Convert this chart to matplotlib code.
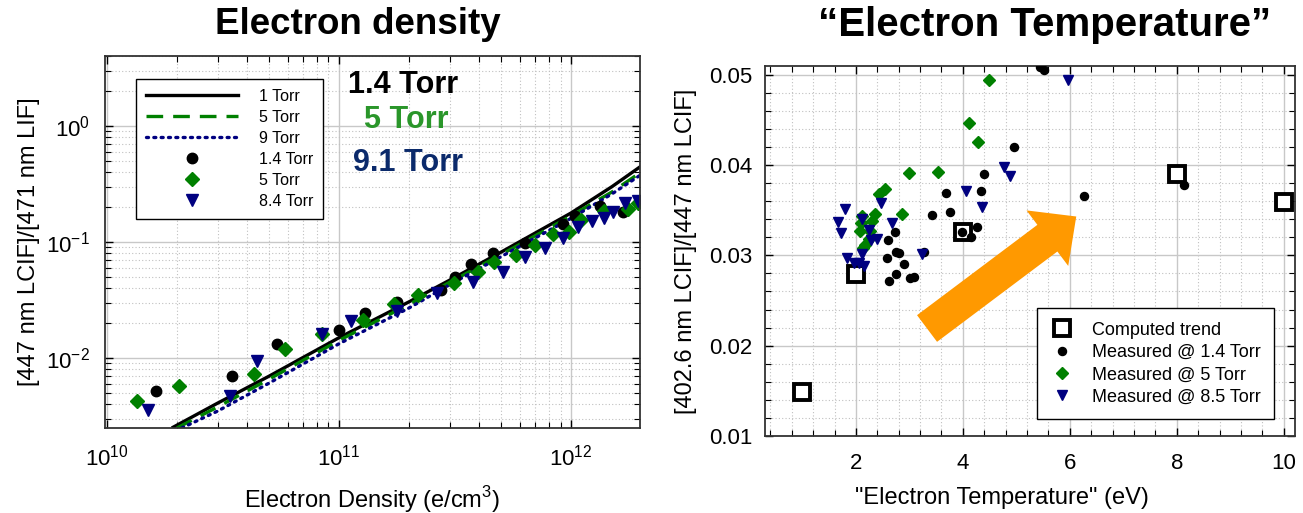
import matplotlib
matplotlib.use("Agg")
import matplotlib.pyplot as plt
import matplotlib.ticker as mticker
from matplotlib.patches import FancyArrowPatch, ArrowStyle
from matplotlib.lines import Line2D

plt.rcParams['font.family'] = ['Liberation Sans', 'DejaVu Sans']
plt.rcParams['mathtext.fontset'] = 'custom'
plt.rcParams['mathtext.rm'] = 'Liberation Sans'

# ---------------- Left panel data: Electron density ----------------
# Model curves (density in e/cm^3, ratio)
line1_density = [1.9e10, 3e10, 5e10, 1e11, 2e11, 3e11, 5e11, 1e12, 1.5e12, 2e12]
line1_ratio   = [0.0025, 0.0041, 0.0070, 0.0150, 0.0305, 0.047, 0.082, 0.178, 0.30, 0.45]
line5_density = [2.0e10, 3e10, 5e10, 1e11, 2e11, 3e11, 5e11, 1e12, 1.5e12, 2e12]
line5_ratio   = [0.0025, 0.0038, 0.0066, 0.0142, 0.029, 0.045, 0.078, 0.168, 0.27, 0.40]
line9_density = [2.1e10, 3e10, 5e10, 1e11, 2e11, 3e11, 5e11, 1e12, 1.5e12, 2e12]
line9_ratio   = [0.0025, 0.0035, 0.0061, 0.0133, 0.027, 0.043, 0.075, 0.160, 0.26, 0.38]

# Measured points
m14_density = [1.63e10, 3.46e10, 5.4e10, 1.0e11, 1.29e11, 1.78e11, 2.76e11, 3.17e11,
               3.70e11, 4.61e11, 6.3e11, 9.2e11, 1.04e12, 1.33e12, 1.68e12]
m14_ratio   = [0.00524, 0.00695, 0.0133, 0.0175, 0.0247, 0.0303, 0.0383, 0.0498,
               0.0648, 0.0801, 0.099, 0.1425, 0.166, 0.206, 0.181]
m5_density = [1.35e10, 2.05e10, 4.3e10, 5.87e10, 8.48e10, 1.27e11, 1.73e11, 2.18e11,
              3.14e11, 3.98e11, 4.67e11, 5.8e11, 6.99e11, 8.35e11, 9.79e11, 1.10e12,
              1.39e12, 1.75e12, 1.94e12]
m5_ratio   = [0.00424, 0.0057, 0.00728, 0.0120, 0.0162, 0.0211, 0.0294, 0.0351,
              0.0442, 0.0557, 0.0666, 0.0776, 0.0946, 0.117, 0.1216, 0.155,
              0.185, 0.192, 0.216]
m84_density = [1.50e10, 3.39e10, 4.44e10, 8.43e10, 1.13e11, 1.77e11, 2.63e11, 3.78e11,
               5.07e11, 6.3e11, 7.7e11, 9.2e11, 1.07e12, 1.23e12, 1.39e12, 1.51e12,
               1.71e12, 1.95e12]
m84_ratio   = [0.00355, 0.00474, 0.00936, 0.0161, 0.0209, 0.0252, 0.0363, 0.0451,
               0.0557, 0.074, 0.0885, 0.108, 0.134, 0.153, 0.160, 0.183,
               0.216, 0.226]

# ---------------- Right panel data: "Electron Temperature" ----------------
trend_te    = [1.0, 2.0, 4.0, 8.0, 10.0]
trend_ratio = [0.0149, 0.0279, 0.0326, 0.0390, 0.0359]

te14 = [5.44, 5.52, 4.96, 4.40, 4.34, 3.68, 3.76, 3.42, 4.26, 3.99, 4.15, 2.74, 2.60,
        2.75, 2.80, 2.58, 2.89, 2.75, 2.62, 3.02, 3.09, 3.28, 6.27, 8.13]
r14  = [0.0509, 0.0505, 0.0420, 0.0390, 0.0371, 0.0369, 0.0348, 0.0345, 0.0331, 0.0326,
        0.0320, 0.0326, 0.0317, 0.0304, 0.0303, 0.0297, 0.0290, 0.0279, 0.0272, 0.0275,
        0.0276, 0.0304, 0.0366, 0.0378]
te5 = [4.49, 4.11, 4.28, 3.00, 3.53, 2.55, 2.44, 2.86, 2.35, 2.12, 2.30, 2.10, 2.08,
       2.27, 2.24, 2.17, 2.13]
r5  = [0.0494, 0.0446, 0.0425, 0.0391, 0.0392, 0.0373, 0.0368, 0.0346, 0.0346, 0.0344,
       0.0338, 0.0336, 0.0327, 0.0327, 0.0318, 0.0311, 0.0308]
te85 = [5.97, 4.76, 4.88, 4.06, 4.35, 2.47, 1.80, 1.66, 1.73, 2.12, 2.24, 2.68, 2.29,
        2.39, 3.23, 2.11, 1.84, 1.97, 2.06, 2.16]
r85  = [0.0494, 0.0398, 0.0388, 0.0371, 0.0354, 0.0358, 0.0351, 0.0337, 0.0325, 0.0340,
        0.0328, 0.0336, 0.0317, 0.0318, 0.0301, 0.0301, 0.0297, 0.0292, 0.0291, 0.0288]

GREEN = '#008000'
NAVY = '#000080'
ORANGE = '#ff9900'

W, H = 1303, 513
fig = plt.figure(figsize=(W / 100, H / 100), dpi=100)

def frac(x0, y0, x1, y1):
    return [x0 / W, 1 - y1 / H, (x1 - x0) / W, (y1 - y0) / H]

# ================= Left panel =================
ax1 = fig.add_axes(frac(105, 56, 640, 428))
ax1.set_xscale('log')
ax1.set_yscale('log')
ax1.plot(line1_density, line1_ratio, color='black', lw=2.4, solid_capstyle='butt')
ax1.plot(line5_density, line5_ratio, color=GREEN, lw=2.4, ls=(0, (5, 3)))
ax1.plot(line9_density, line9_ratio, color=NAVY, lw=2.4, ls=(0, (0.6, 1.6)),
         dash_capstyle='round')
ax1.plot(m14_density, m14_ratio, 'o', color='black', ms=7.5, ls='none')
ax1.plot(m5_density, m5_ratio, 'D', color=GREEN, ms=7.5, ls='none')
ax1.plot(m84_density, m84_ratio, 'v', color=NAVY, ms=8.5, ls='none')
ax1.set_xlim(0.98e10, 1.98e12)
ax1.set_ylim(0.0025, 4.0)
ax1.grid(True, which='major', color='#c8c8c8', lw=1.0, ls='-')
ax1.grid(True, which='minor', color='#c0c0c0', lw=0.8, ls=(0, (1, 2)))
ax1.set_axisbelow(True)
ax1.tick_params(which='both', direction='in', top=True, right=True, labelsize=16)
ax1.tick_params(which='major', length=6, width=1.0)
ax1.tick_params(which='minor', length=4, width=0.8)
ax1.tick_params(axis='x', pad=12)
ax1.tick_params(axis='y', pad=11)
ax1.xaxis.set_major_locator(mticker.LogLocator(base=10, numticks=10))
ax1.yaxis.set_major_locator(mticker.LogLocator(base=10, numticks=10))
for sp in ax1.spines.values():
    sp.set_color('#333333')
    sp.set_linewidth(1.3)

ax1.set_xlabel(r'Electron Density (e/cm$^{\mathregular{3}}$)', fontsize=17)
ax1.xaxis.set_label_coords(0.5, -0.15)
ax1.set_ylabel('[447 nm LCIF]/[471 nm LIF]', fontsize=17)
ax1.yaxis.set_label_coords(-0.121, 0.5)

leg_handles = [
    Line2D([], [], color='black', lw=2.4),
    Line2D([], [], color=GREEN, lw=2.4, ls=(0, (5, 3))),
    Line2D([], [], color=NAVY, lw=2.4, ls=(0, (0.6, 1.6)), dash_capstyle='round'),
    Line2D([], [], marker='o', color='black', ls='none', ms=7.5),
    Line2D([], [], marker='D', color=GREEN, ls='none', ms=7.5),
    Line2D([], [], marker='v', color=NAVY, ls='none', ms=8.5),
]
leg_labels = ['1 Torr', '5 Torr', '9 Torr', '1.4 Torr', '5 Torr', '8.4 Torr']
leg1 = ax1.legend(leg_handles, leg_labels, loc='upper left',
                  bbox_to_anchor=(0.058, 0.938), fontsize=11.5, frameon=True,
                  fancybox=False, framealpha=1, edgecolor='black',
                  handlelength=5.8, handletextpad=1.3, labelspacing=0.38,
                  borderpad=0.6, borderaxespad=0, numpoints=1)
leg1.get_frame().set_linewidth(1.0)

ax1.text(0.455, 0.922, '1.4 Torr', transform=ax1.transAxes, fontsize=22,
         fontweight='bold', color='black', ha='left', va='center')
ax1.text(0.485, 0.828, '5 Torr', transform=ax1.transAxes, fontsize=22,
         fontweight='bold', color='#2a962a', ha='left', va='center')
ax1.text(0.463, 0.712, '9.1 Torr', transform=ax1.transAxes, fontsize=22,
         fontweight='bold', color='#0b2a6b', ha='left', va='center')

fig.text(358 / W, 1 - 25 / H, 'Electron density', fontsize=26.5, fontweight='bold',
         ha='center', va='center')

# ================= Right panel =================
ax2 = fig.add_axes(frac(765, 66, 1295, 436))
ax2.plot(trend_te, trend_ratio, 's', ls='none', ms=11, mfc='white', mec='black', mew=2.8,
         label='Computed trend', zorder=3)
ax2.plot(te14, r14, 'o', ls='none', ms=5.8, color='black', label='Measured @ 1.4 Torr',
         zorder=4)
ax2.plot(te5, r5, 'D', ls='none', ms=6, color=GREEN, label='Measured @ 5 Torr', zorder=4)
ax2.plot(te85, r85, 'v', ls='none', ms=7, color=NAVY, label='Measured @ 8.5 Torr', zorder=4)
ax2.set_xlim(0.3, 10.21)
ax2.set_ylim(0.01, 0.05096)
ax2.xaxis.set_major_locator(mticker.MultipleLocator(2))
ax2.xaxis.set_minor_locator(mticker.MultipleLocator(0.4))
ax2.yaxis.set_major_locator(mticker.MultipleLocator(0.01))
ax2.yaxis.set_minor_locator(mticker.MultipleLocator(0.002))
ax2.yaxis.set_major_formatter(mticker.FormatStrFormatter('%.2f'))
ax2.grid(True, which='major', color='#c8c8c8', lw=1.0, ls='-')
ax2.grid(True, which='minor', color='#c0c0c0', lw=0.8, ls=(0, (1, 2)))
ax2.set_axisbelow(True)
ax2.tick_params(which='both', direction='in', top=True, right=True, labelsize=16)
ax2.tick_params(which='major', length=6, width=1.0)
ax2.tick_params(which='minor', length=4, width=0.8)
ax2.tick_params(axis='x', pad=12)
ax2.tick_params(axis='y', pad=9)
for sp in ax2.spines.values():
    sp.set_color('#333333')
    sp.set_linewidth(1.3)

ax2.set_xlabel('"Electron Temperature" (eV)', fontsize=17)
ax2.xaxis.set_label_coords(0.447, -0.138)
ax2.set_ylabel('[402.6 nm LCIF]/[447 nm LCIF]', fontsize=17)
ax2.yaxis.set_label_coords(-0.128, 0.5)

arrow = FancyArrowPatch((3.33, 0.0219), (6.12, 0.0343), transform=ax2.transData,
                        arrowstyle=ArrowStyle('Simple', head_length=26, head_width=50,
                                              tail_width=24),
                        mutation_scale=1, color=ORANGE, shrinkA=0, shrinkB=0, lw=0,
                        zorder=5)
ax2.add_patch(arrow)

leg2 = ax2.legend(loc='upper left', bbox_to_anchor=(0.513, 0.346), fontsize=13,
                  frameon=True, fancybox=False, framealpha=1, edgecolor='black',
                  handlelength=1.3, handletextpad=1.0, labelspacing=0.3,
                  borderpad=0.75, borderaxespad=0, numpoints=1)
leg2.get_frame().set_linewidth(1.0)
leg2.set_zorder(6)

fig.text(1045 / W, 1 - 25 / H, '\u201cElectron Temperature\u201d', fontsize=29,
         fontweight='bold', ha='center', va='center')

fig.savefig('out.png', dpi=100)
